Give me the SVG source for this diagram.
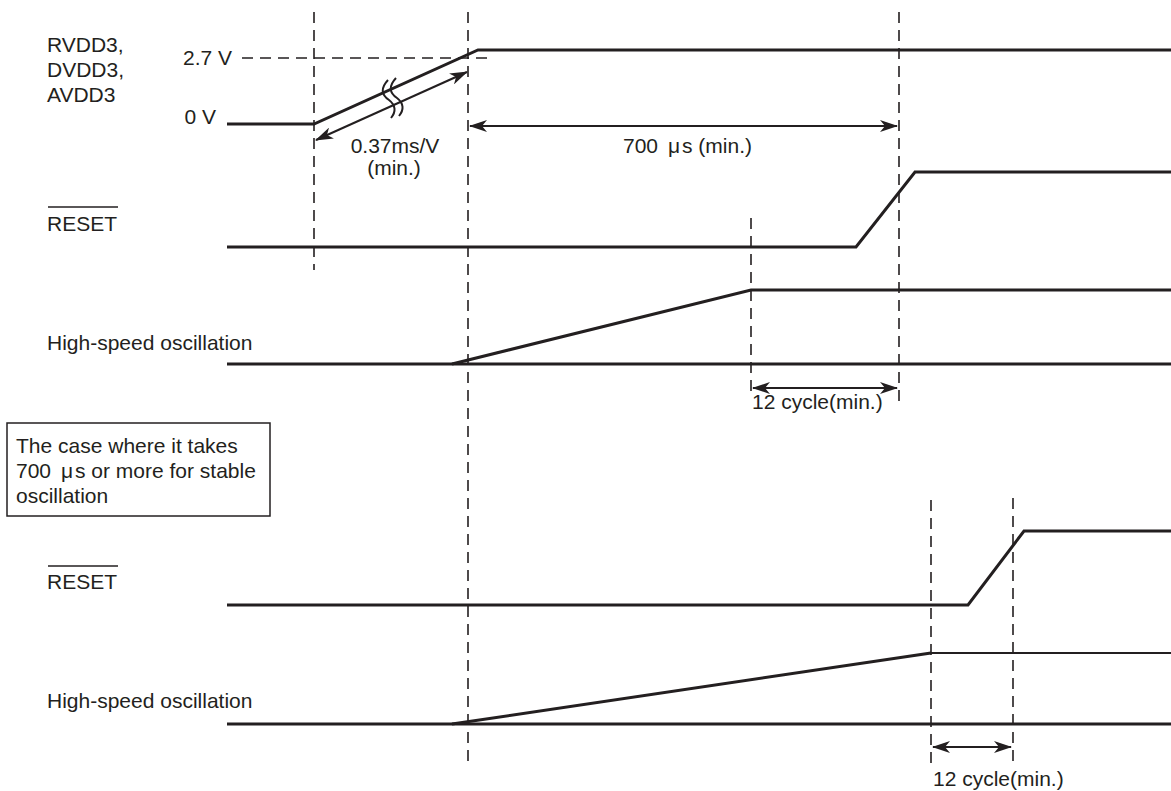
<svg xmlns="http://www.w3.org/2000/svg" width="1171" height="791" viewBox="0 0 1171 791">
<style>
  text { font-family: "Liberation Sans", Arial, sans-serif; font-size: 21px; fill: #231f20; }
  .sig { fill: none; stroke: #231f20; stroke-width: 3; stroke-linejoin: miter; }
  .thin { fill: none; stroke: #231f20; stroke-width: 2; }
  .dash { fill: none; stroke: #231f20; stroke-width: 1.6; stroke-dasharray: 11 7; }
  .arr { fill: none; stroke: #231f20; stroke-width: 2; marker-start: url(#ah); marker-end: url(#ah); }
  .ov { stroke: #231f20; stroke-width: 1.6; }
</style>
<defs>
  <marker id="ah" viewBox="0 0 18 12" refX="17" refY="6" markerWidth="18" markerHeight="12" markerUnits="userSpaceOnUse" orient="auto-start-reverse">
    <path d="M0,0 L18,6 L0,12 L5,6 Z" fill="#231f20"/>
  </marker>
</defs>
<rect width="1171" height="791" fill="#ffffff"/>

<g id="guides">
  <line class="dash" x1="314" y1="12" x2="314" y2="270"/>
  <line class="dash" x1="468" y1="12" x2="468" y2="764"/>
  <line class="dash" x1="899" y1="12" x2="899" y2="402"/>
  <line class="dash" x1="751" y1="218" x2="751" y2="398"/>
  <line class="dash" x1="931" y1="500" x2="931" y2="764"/>
  <line class="dash" x1="1013" y1="498" x2="1013" y2="764"/>
  <line class="dash" x1="242" y1="58" x2="492" y2="58"/>
</g>

<g id="labels">
  <text x="47" y="52">RVDD3,</text>
  <text x="47" y="77">DVDD3,</text>
  <text x="47" y="102">AVDD3</text>
  <text x="232" y="65" text-anchor="end">2.7 V</text>
  <text x="216" y="124" text-anchor="end">0 V</text>
  <text x="47" y="231">RESET</text>
  <line class="ov" x1="48" y1="207" x2="118" y2="207"/>
  <text x="47" y="350">High-speed oscillation</text>
  <text x="47" y="589">RESET</text>
  <line class="ov" x1="48" y1="566" x2="118" y2="566"/>
  <text x="47" y="708">High-speed oscillation</text>
</g>

<g id="supply">
  <polyline class="sig" points="227,124 314,124 478,50 1171,50"/>
  <path class="thin" d="M388,80 Q377,92 389,100 Q399,108 391,118"/>
  <path class="thin" d="M396,78 Q385,90 397,98 Q407,106 399,116"/>
</g>

<g id="reset1">
  <polyline class="sig" points="227,247 856,247 915,172 1171,172"/>
</g>

<g id="osc1">
  <polyline class="sig" points="227,364 1171,364"/>
  <polyline class="sig" points="452,364 751,290 1171,290"/>
</g>

<g id="note">
  <rect x="7" y="423" width="263" height="93" fill="none" stroke="#231f20" stroke-width="1.5"/>
  <text x="16" y="453">The case where it takes</text>
  <text x="16" y="478">700 <tspan dx="4">μ</tspan><tspan dx="2">s or more for stable</tspan></text>
  <text x="16" y="503">oscillation</text>
</g>

<g id="reset2">
  <polyline class="sig" points="227,605 968,605 1024,531 1171,531"/>
</g>

<g id="osc2">
  <polyline class="sig" points="227,724 1171,724"/>
  <polyline class="sig" points="452,724 931,653"/>
  <line x1="931" y1="653" x2="1171" y2="653" stroke="#231f20" stroke-width="2"/>
</g>

<g id="connectors">
  <line class="arr" x1="316" y1="140" x2="467" y2="72"/>
  <line class="arr" x1="470" y1="126" x2="897" y2="126"/>
  <line class="arr" x1="753" y1="388" x2="897" y2="388"/>
  <line class="arr" x1="933" y1="747" x2="1011" y2="747"/>
</g>

<g id="dimension-labels">
  <text x="395" y="153" text-anchor="middle">0.37ms/V</text>
  <text x="394" y="175" text-anchor="middle">(min.)</text>
  <text x="623" y="153">700 <tspan dx="4">μ</tspan><tspan dx="2">s (min.)</tspan></text>
  <text x="752" y="409">12 cycle(min.)</text>
  <text x="933" y="786">12 cycle(min.)</text>
</g>
</svg>
